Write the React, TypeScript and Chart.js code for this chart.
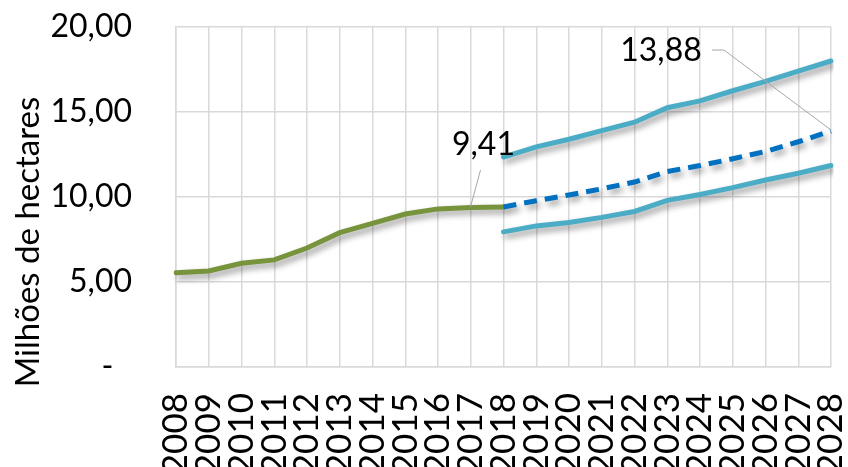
import React, { useEffect, useRef } from 'react';
import { Chart, registerables } from 'chart.js';
Chart.register(...registerables);

const years = ['2008', '2009', '2010', '2011', '2012', '2013', '2014', '2015', '2016', '2017', '2018', '2019', '2020', '2021', '2022', '2023', '2024', '2025', '2026', '2027', '2028'];
const historical = [5.55, 5.65, 6.1, 6.3, 7.0, 7.9, 8.45, 9.0, 9.3, 9.38, 9.41, null, null, null, null, null, null, null, null, null, null];
const projection = [null, null, null, null, null, null, null, null, null, null, 9.41, 9.78, 10.12, 10.48, 10.88, 11.5, 11.85, 12.25, 12.68, 13.25, 13.88];
const upperBound = [null, null, null, null, null, null, null, null, null, null, 12.35, 12.95, 13.4, 13.9, 14.4, 15.25, 15.65, 16.25, 16.8, 17.4, 18.0];
const lowerBound = [null, null, null, null, null, null, null, null, null, null, 7.95, 8.3, 8.5, 8.8, 9.15, 9.8, 10.15, 10.55, 11.0, 11.4, 11.85];
const yMin = 0;
const yMax = 20;
const yStep = 5;
const yTitle = 'Milhões de hectares';

const fmt = (v: number) => v.toFixed(2).replace('.', ',');

const shadowPlugin = {
  id: 'lineShadow',
  beforeDatasetsDraw(chart: any) {
    const ctx = chart.ctx;
    ctx.save();
    ctx.shadowColor = 'rgba(0,0,0,0.4)';
    ctx.shadowBlur = 6;
    ctx.shadowOffsetX = 3;
    ctx.shadowOffsetY = 4;
  },
  afterDatasetsDraw(chart: any) {
    chart.ctx.restore();
  },
};

const annotatePlugin = {
  id: 'annotate',
  afterDraw(chart: any) {
    const ctx = chart.ctx;
    const x = chart.scales.x;
    const y = chart.scales.y;
    ctx.save();
    ctx.fillStyle = '#000';
    ctx.font = '33px Lato';
    ctx.textAlign = 'center';
    ctx.textBaseline = 'middle';
    ctx.translate(28, 242);
    ctx.rotate(-Math.PI / 2);
    ctx.fillText(yTitle, 0, 0);
    ctx.restore();

    ctx.save();
    ctx.font = '32px Lato';
    ctx.fillStyle = '#000';
    ctx.textAlign = 'center';
    ctx.textBaseline = 'middle';
    ctx.strokeStyle = '#a6a6a6';
    ctx.lineWidth = 1;
    const hi = 10;
    const hx = x.getPixelForValue(hi);
    const hy = y.getPixelForValue(historical[hi] as number);
    ctx.fillText(fmt(historical[hi] as number), hx - 20, hy - 62);
    ctx.beginPath();
    ctx.moveTo(hx - 23, hy - 37);
    ctx.lineTo(hx - 33, hy);
    ctx.stroke();
    const pi = 20;
    const px = x.getPixelForValue(pi);
    const py = y.getPixelForValue(projection[pi] as number);
    ctx.fillText(fmt(projection[pi] as number), px - 170, py - 80);
    ctx.beginPath();
    ctx.moveTo(px - 119, py - 81);
    ctx.lineTo(px - 107, py - 81);
    ctx.lineTo(px, py - 1);
    ctx.stroke();
    ctx.restore();
  },
};

const noPad = (s: any) => {
  s.paddingTop = 0;
  s.paddingBottom = 0;
  s.paddingLeft = 0;
  s.paddingRight = 0;
};

export default function App() {
  const ref = useRef<HTMLCanvasElement>(null);
  useEffect(() => {
    if (!ref.current) return;
    const chart = new Chart(ref.current, {
      type: 'line',
      data: {
        labels: years,
        datasets: [
          {
            label: 'Projeção',
            data: projection,
            borderColor: '#0070C0',
            borderWidth: 5,
            borderDash: [13, 8],
            pointRadius: 0,
            tension: 0,
          },
          {
            label: 'Limite superior',
            data: upperBound,
            borderColor: '#4BACC6',
            borderWidth: 5,
            borderCapStyle: 'round',
            pointRadius: 0,
            tension: 0,
          },
          {
            label: 'Limite inferior',
            data: lowerBound,
            borderColor: '#4BACC6',
            borderWidth: 5,
            borderCapStyle: 'round',
            pointRadius: 0,
            tension: 0,
          },
          {
            label: 'Histórico',
            data: historical,
            borderColor: '#77933C',
            borderWidth: 5,
            borderCapStyle: 'round',
            pointRadius: 0,
            tension: 0,
          },
        ],
      },
      options: {
        animation: false,
        responsive: true,
        maintainAspectRatio: false,
        layout: { padding: { top: 27, right: 17, left: 0, bottom: 0 } },
        plugins: { legend: { display: false }, tooltip: { enabled: false } },
        scales: {
          x: {
            offset: false,
            grid: { color: '#d9d9d9', lineWidth: 1.5, drawTicks: false },
            border: { color: '#d9d9d9', width: 1.5 },
            ticks: {
              minRotation: 90,
              maxRotation: 90,
              autoSkip: false,
              padding: 26,
              color: '#000',
              font: { family: 'Lato', size: 35 },
            },
            afterFit: (s: any) => { s.height = 100; noPad(s); },
          },
          y: {
            min: yMin,
            max: yMax,
            grid: { color: '#d9d9d9', lineWidth: 1.5, drawTicks: false },
            border: { color: '#d9d9d9', width: 1.5 },
            ticks: {
              stepSize: yStep,
              padding: 44,
              color: '#000',
              font: { family: 'Lato', size: 32 },
              callback: (v: any) => (Number(v) === 0 ? '-\u2007' : fmt(Number(v))),
            },
            afterFit: (s: any) => { s.width = 176; noPad(s); },
          },
        },
      },
      plugins: [shadowPlugin, annotatePlugin],
    } as any);
    return () => chart.destroy();
  }, []);
  return (
    <div style={{ position: 'fixed', left: 0, top: 0, width: 848, height: 467, background: '#fff' }}>
      <canvas ref={ref} />
    </div>
  );
}
